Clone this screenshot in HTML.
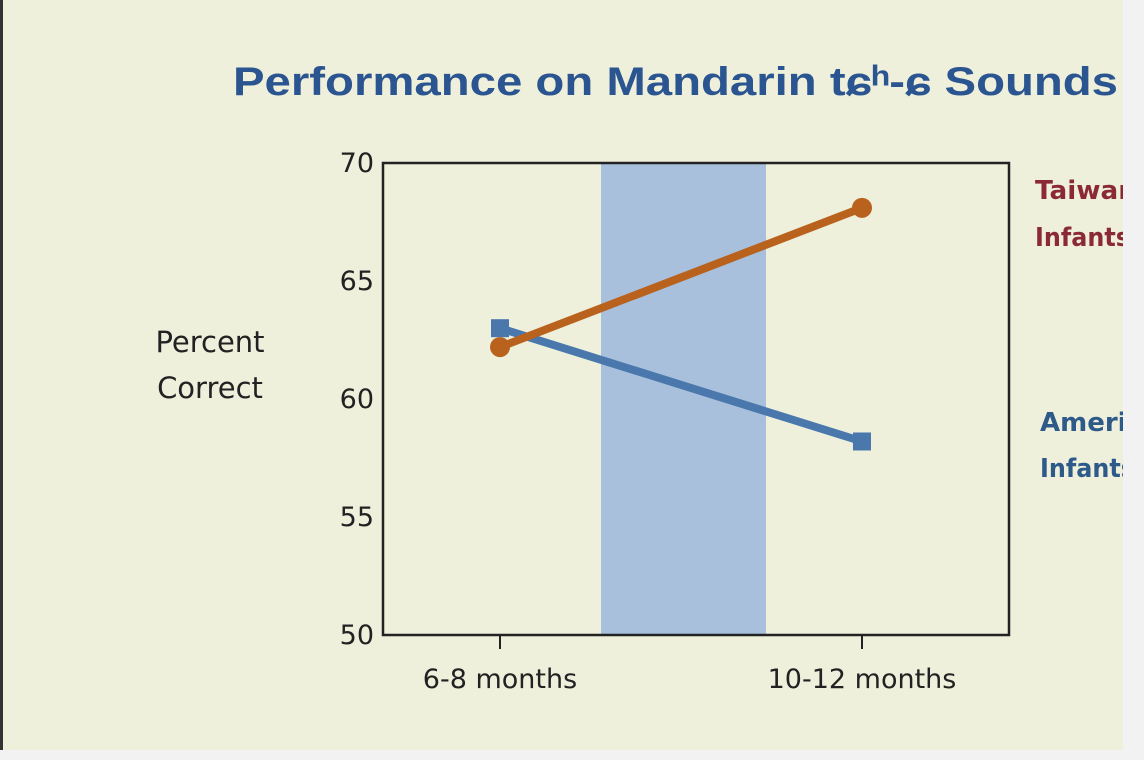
<!DOCTYPE html>
<html><head><meta charset="utf-8"><style>
body{margin:0;background:#f2f2f2;width:1144px;height:760px;overflow:hidden;font-family:"Liberation Sans",sans-serif}
#slide{position:absolute;left:0;top:0;width:1123px;height:750px;background:#eef0dc;overflow:hidden;border-left:3px solid #333;box-sizing:border-box}
</style></head><body>
<div id="slide">
<svg width="1123" height="750" style="position:absolute;left:-3px;top:0">
<text x="233" y="95" font-size="40" font-weight="bold" fill="#2b5590" font-family="Liberation Sans, DejaVu Sans, sans-serif" textLength="885" lengthAdjust="spacingAndGlyphs">Performance on Mandarin tɕʰ-ɕ Sounds</text>
<text x="210" y="352" font-size="29" fill="#222" text-anchor="middle" font-family="DejaVu Sans, sans-serif"><tspan x="210">Percent</tspan><tspan x="210" dy="46">Correct</tspan></text>
<g id="g"></g>
<text x="1035" y="199" font-size="26" font-weight="bold" fill="#8b2a35" font-family="DejaVu Sans, sans-serif"><tspan x="1035" textLength="102" lengthAdjust="spacingAndGlyphs">Taiwan</tspan><tspan x="1035" dy="47" textLength="95" lengthAdjust="spacingAndGlyphs">Infants</tspan></text>
<text x="1040" y="431" font-size="26" font-weight="bold" fill="#2e5a8a" font-family="DejaVu Sans, sans-serif"><tspan x="1040" textLength="138" lengthAdjust="spacingAndGlyphs">American</tspan><tspan x="1040" dy="46" textLength="95" lengthAdjust="spacingAndGlyphs">Infants</tspan></text>
</svg>
</div>
<script>
const categories=["6-8 months","10-12 months"];
const taiwan=[62.2,68.1];
const american=[63.0,58.2];
const yTicks=[50,55,60,65,70];
const NS="http://www.w3.org/2000/svg";
const g=document.getElementById('g');
const L=383,R=1009,T=163,B=635;
const xPos=[500,862];
const y=v=>B-(v-50)/20*(B-T);
const x=i=>xPos[i];
function mk(t,a){const e=document.createElementNS(NS,t);for(const k in a)e.setAttribute(k,a[k]);g.appendChild(e);return e;}
let band=mk('rect',{x:601,y:T,width:165,height:B-T,fill:'#a8c0dc'});


let frame=mk('rect',{x:L,y:T,width:R-L,height:B-T,fill:'none',stroke:'#222','stroke-width':2.5});


yTicks.forEach(v=>{let t=mk('text',{x:374,y:y(v)+9,'font-size':27,'text-anchor':'end',fill:'#222','font-family':'DejaVu Sans, sans-serif'});t.textContent=v;

});
categories.forEach((c,i)=>{mk('line',{x1:x(i),x2:x(i),y1:B,y2:B+14,stroke:'#222','stroke-width':2});
let t=mk('text',{x:x(i),y:688,'font-size':27,'text-anchor':'middle',fill:'#222','font-family':'DejaVu Sans, sans-serif'});t.textContent=c;

});
function series(vals,col,name,sq){
 let l=mk('line',{x1:x(0),y1:y(vals[0]),x2:x(1),y2:y(vals[1]),stroke:col,'stroke-width':8});
 
 
 vals.forEach((v,i)=>{let m=sq?mk('rect',{x:x(i)-9,y:y(v)-9,width:18,height:18,fill:col}):mk('circle',{cx:x(i),cy:y(v),r:10,fill:col});
 
 });
}
series(american,'#4a78ad','american',true);
series(taiwan,'#b8621e','taiwan',false);
</script>
</body></html>
